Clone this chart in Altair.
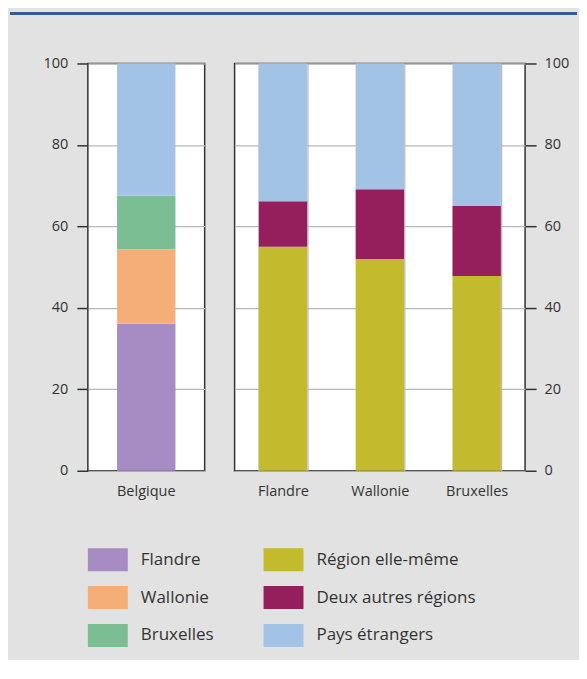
import altair as alt
import pandas as pd

# --- data -------------------------------------------------------------
left_category = ["Belgique"]
left_series = ["Flandre", "Wallonie", "Bruxelles", "Pays étrangers"]
left_values = [36.1, 18.3, 13.1, 32.5]

right_categories = ["Flandre", "Wallonie", "Bruxelles"]
right_series = ["Région elle-même", "Deux autres régions", "Pays étrangers"]
region_self = [55.0, 52.0, 47.8]
two_other = [11.2, 17.1, 17.2]
foreign = [33.8, 30.9, 35.0]

legend_order = ["Flandre", "Wallonie", "Bruxelles",
                "Région elle-même", "Deux autres régions", "Pays étrangers"]
legend_colors = ["#a78bc3", "#f6ae78", "#7bbe93", "#c4ba2e", "#951f5c", "#a3c3e6"]

left_df = pd.DataFrame({
    "cat": left_category * len(left_series),
    "series": left_series,
    "value": left_values,
    "ord": list(range(len(left_series))),
})

rows = []
for i, c in enumerate(right_categories):
    for j, (s, v) in enumerate(zip(right_series, [region_self[i], two_other[i], foreign[i]])):
        rows.append({"cat": c, "series": s, "value": v, "ord": j})
right_df = pd.DataFrame(rows)

# --- encodings --------------------------------------------------------
color = alt.Color(
    "series:N",
    scale=alt.Scale(domain=legend_order, range=legend_colors),
    legend=alt.Legend(
        title=None, orient="none", legendX=0, legendY=477, columns=2,
        symbolType="M-1,-0.575H1V0.575H-1Z", symbolSize=1600,
        symbolStrokeWidth=0, symbolOpacity=1,
        labelFontSize=17, labelColor="#333333", labelOffset=13,
        rowPadding=6, columnPadding=49,
    ),
)

yvals = [0, 20, 40, 60, 80, 100]
band = alt.Scale(paddingInner=0.5, paddingOuter=0.25)
yscale = alt.Scale(domain=[0, 100], nice=False)

left_bars = alt.Chart(left_df).mark_bar().encode(
    x=alt.X("cat:N", title=None, scale=band,
            axis=alt.Axis(labelAngle=0, ticks=False, domain=False, grid=False,
                          labelPadding=14)),
    y=alt.Y("value:Q", stack="zero", title=None, scale=yscale,
            axis=alt.Axis(orient="left", values=yvals, tickSize=11, labelPadding=9,
                          domain=False, grid=True)),
    color=color,
    order=alt.Order("ord:Q"),
)

top_line = alt.Chart(left_df).mark_rule(color="#2f5597", strokeWidth=2).encode(
    x=alt.value(-78), x2=alt.value(490), y=alt.value(-50)
)

left = alt.layer(left_bars, top_line).properties(width=117, height=408)

right = alt.Chart(right_df).mark_bar().encode(
    x=alt.X("cat:N", title=None, sort=right_categories, scale=band,
            axis=alt.Axis(labelAngle=0, ticks=False, domain=False, grid=True,
                          tickBand="extent", labelPadding=14)),
    y=alt.Y("value:Q", stack="zero", title=None, scale=yscale,
            axis=alt.Axis(orient="right", values=yvals, tickSize=11, labelPadding=8,
                          domain=False, grid=True)),
    color=color,
    order=alt.Order("ord:Q"),
).properties(width=291, height=408)

chart = alt.hconcat(left, right, spacing=30, bounds="flush").resolve_scale(
    color="shared"
).properties(
    padding={"left": 0, "top": 3, "right": 0, "bottom": 12},
    background="#e2e2e2",
).configure(
    font="Open Sans",
).configure_view(
    fill="white", stroke="#333333", strokeWidth=1.5,
).configure_axis(
    labelFontSize=14.5, labelColor="#333333", tickColor="#333333", tickWidth=1.5,
    gridColor="#b8b8b8", gridWidth=1.2, labelFont="Open Sans",
).configure_legend(
    labelFont="Open Sans",
)

chart.save("out.html", embed_options={"renderer": "svg", "actions": False})
